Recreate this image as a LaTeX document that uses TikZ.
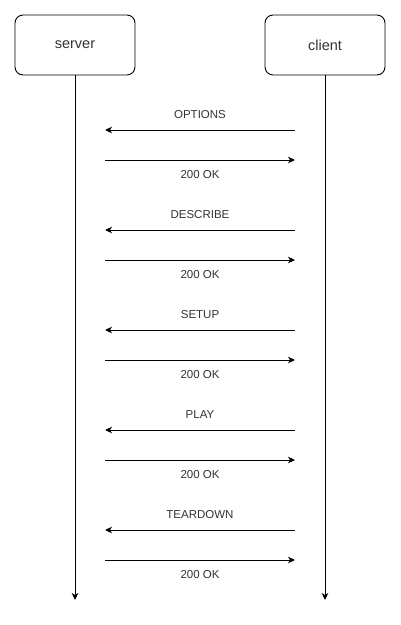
\documentclass[tikz,border=0pt]{standalone}
\usepackage{fontspec}
\setmainfont{Liberation Sans}
\usetikzlibrary{arrows.meta}

\tikzset{
  party/.style={draw,line width=0.9pt,rounded corners=8pt,minimum width=120pt,minimum height=60pt,
    font=\fontsize{14.5}{16}\selectfont,text=black!80},
  msg/.style={-{Stealth[length=7pt,width=6.5pt,inset=2pt]},line width=0.9pt},
  msglabel/.style={font=\fontsize{11.5}{13}\selectfont,text=black!80}
}

\begin{document}
\begin{tikzpicture}[x=1pt,y=-1pt]
  \useasboundingbox (0,0) rectangle (401,625);

  % Draw the two parties
  \node[party] (server) at (75,45) {server};
  \node[party] (client) at (325,45) {client};

  % Lifelines
  \coordinate (bottom) at (0,600);
  \draw[msg] (server.south) -- (server.south |- bottom);
  \draw[msg] (client.south) -- (client.south |- bottom);

  % OPTIONS
  \coordinate (c1) at (295,130); \coordinate (s1) at (105,130);
  \draw[msg] (c1) -- (s1) node[msglabel,midway,yshift=15pt] {OPTIONS};
  \coordinate (s2) at (105,160); \coordinate (c2) at (295,160);
  \draw[msg] (s2) -- (c2) node[msglabel,midway,yshift=-15pt] {200 OK};

  % DESCRIBE
  \coordinate (c3) at (295,230); \coordinate (s3) at (105,230);
  \draw[msg] (c3) -- (s3) node[msglabel,midway,yshift=15pt] {DESCRIBE};
  \coordinate (s4) at (105,260); \coordinate (c4) at (295,260);
  \draw[msg] (s4) -- (c4) node[msglabel,midway,yshift=-15pt] {200 OK};

  % SETUP
  \coordinate (c5) at (295,330); \coordinate (s5) at (105,330);
  \draw[msg] (c5) -- (s5) node[msglabel,midway,yshift=15pt] {SETUP};
  \coordinate (s6) at (105,360); \coordinate (c6) at (295,360);
  \draw[msg] (s6) -- (c6) node[msglabel,midway,yshift=-15pt] {200 OK};

  % PLAY
  \coordinate (c7) at (295,430); \coordinate (s7) at (105,430);
  \draw[msg] (c7) -- (s7) node[msglabel,midway,yshift=15pt] {PLAY};
  \coordinate (s8) at (105,460); \coordinate (c8) at (295,460);
  \draw[msg] (s8) -- (c8) node[msglabel,midway,yshift=-15pt] {200 OK};

  % TEARDOWN
  \coordinate (c9) at (295,530); \coordinate (s9) at (105,530);
  \draw[msg] (c9) -- (s9) node[msglabel,midway,yshift=15pt] {TEARDOWN};
  \coordinate (s10) at (105,560); \coordinate (c10) at (295,560);
  \draw[msg] (s10) -- (c10) node[msglabel,midway,yshift=-15pt] {200 OK};
\end{tikzpicture}
\end{document}
